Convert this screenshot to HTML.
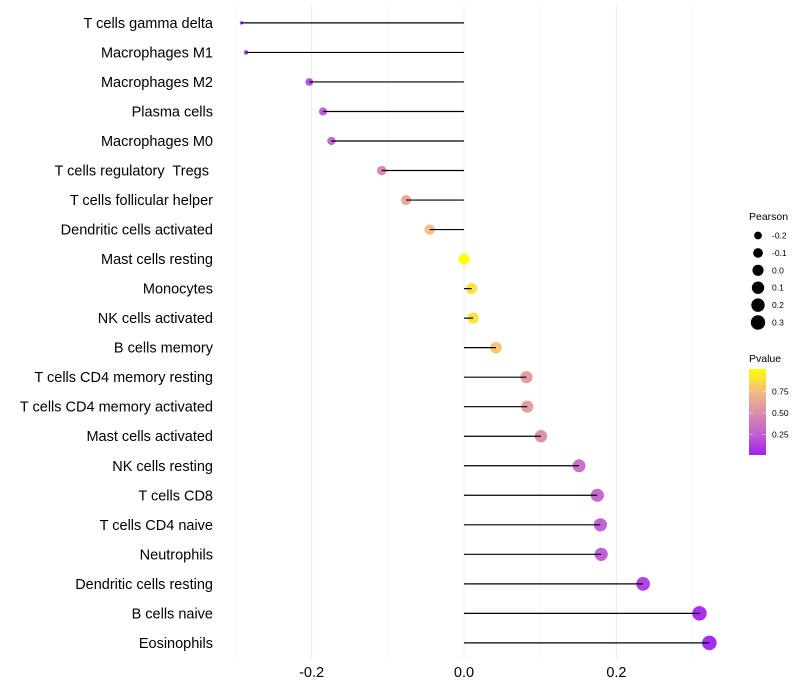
<!DOCTYPE html>
<html>
<head>
<meta charset="utf-8">
<title>Pearson lollipop chart</title>
<style>
html,body{margin:0;padding:0;background:#fff;}
svg{display:block;font-family:"Liberation Sans",sans-serif;}
text{white-space:pre;}
</style>
</head>
<body>
<svg id="chart" xmlns="http://www.w3.org/2000/svg" width="800" height="700" viewBox="0 0 800 700">
<defs>
<linearGradient id="pvalue-ramp" x1="0" y1="1" x2="0" y2="0">
<stop offset="0" stop-color="#a020f0"/>
<stop offset="0.24" stop-color="#c05fd0"/>
<stop offset="0.5" stop-color="#dd8fa8"/>
<stop offset="0.75" stop-color="#f3be7f"/>
<stop offset="1" stop-color="#ffff00"/>
</linearGradient>
</defs>
<g id="grid"></g>
<g id="points"></g>
<g id="segments"></g>
<g id="ylabels"></g>
<g id="xlabels"></g>
<g id="legend-size">
<text x="749" y="220" font-size="10.5" fill="#000">Pearson</text>
</g>
<g id="legend-color">
<text x="749" y="362" font-size="10.5" fill="#000">Pvalue</text>
<rect x="749" y="369" width="17" height="86" fill="url(#pvalue-ramp)"/>
</g>
</svg>
<script>
const categories = ["T cells gamma delta","Macrophages M1","Macrophages M2","Plasma cells","Macrophages M0","T cells regulatory  Tregs ","T cells follicular helper","Dendritic cells activated","Mast cells resting","Monocytes","NK cells activated","B cells memory","T cells CD4 memory resting","T cells CD4 memory activated","Mast cells activated","NK cells resting","T cells CD8","T cells CD4 naive","Neutrophils","Dendritic cells resting","B cells naive","Eosinophils"];
const pearson = [-0.292,-0.286,-0.203,-0.185,-0.174,-0.108,-0.076,-0.045,0,0.010,0.012,0.042,0.082,0.083,0.101,0.151,0.175,0.179,0.180,0.235,0.309,0.322];
const pvalue = [0.03,0.04,0.16,0.20,0.25,0.45,0.60,0.75,1.0,0.89,0.89,0.77,0.55,0.55,0.47,0.30,0.25,0.23,0.22,0.10,0.02,0.01];
const xMajorTicks = [-0.2,0,0.2];
const xMinorTicks = [-0.3,-0.1,0.1,0.3];
const xTickLabels = ["-0.2","0.0","0.2"];
const sizeLegendValues = [-0.2,-0.1,0,0.1,0.2,0.3];
const sizeLegendLabels = ["-0.2","-0.1","0.0","0.1","0.2","0.3"];
const colorLegendValues = [0.75,0.5,0.25];
const colorLegendLabels = ["0.75","0.50","0.25"];

const NS = "http://www.w3.org/2000/svg";
function xScale(v){ return 464 + v * 762; }
function yScale(i){ return 22.9 + i * (620 / (categories.length - 1)); }
const pearsonMin = Math.min.apply(null, pearson);
const pearsonMax = Math.max.apply(null, pearson);
function radius(v){
  const t = Math.max(0, (v - pearsonMin) / (pearsonMax - pearsonMin));
  return 1.7 + 5.6 * Math.sqrt(t);
}
function colorScale(p){
  const anchors = [[0,[160,32,240]],[0.24,[192,95,208]],[0.5,[221,143,168]],[0.75,[243,190,127]],[1,[255,255,0]]];
  for(let i = 1; i < anchors.length; i++){
    if(p <= anchors[i][0]){
      const a = anchors[i-1], b = anchors[i];
      const t = (p - a[0]) / (b[0] - a[0]);
      const c = a[1].map(function(q,k){ return Math.round(q + (b[1][k] - q) * t); });
      return "rgb(" + c.join(",") + ")";
    }
  }
  return "rgb(255,255,0)";
}
function pvalY(p){ return 455 - (p - 0.01) * 86; }
function make(tag, attrs, parent){
  const el = document.createElementNS(NS, tag);
  Object.keys(attrs).forEach(function(k){ el.setAttribute(k, attrs[k]); });
  parent.appendChild(el);
  return el;
}
const grid = document.getElementById("grid");
const points = document.getElementById("points");
const segments = document.getElementById("segments");
const ylabels = document.getElementById("ylabels");
const xlabels = document.getElementById("xlabels");
const legendSize = document.getElementById("legend-size");
const legendColor = document.getElementById("legend-color");

xMinorTicks.forEach(function(v){
  const el = make("line", {x1:xScale(v), x2:xScale(v), y1:6, y2:660, stroke:"#f2f2f2", "stroke-width":0.6}, grid);
  
  
});
xMajorTicks.forEach(function(v,i){
  const el = make("line", {x1:xScale(v), x2:xScale(v), y1:6, y2:660, stroke:"#ebebeb", "stroke-width":1.07}, grid);
  
  
  const t = make("text", {x:xScale(v), y:677, "text-anchor":"middle", "font-size":14.5, fill:"#000"}, xlabels);
  t.textContent = xTickLabels[i];
  
  
});
categories.forEach(function(name,i){
  const y = yScale(i);
  const c = make("circle", {cx:xScale(pearson[i]), cy:y, r:radius(pearson[i]), fill:colorScale(pvalue[i]), "fill-opacity":0.95}, points);
  
  
  const s = make("line", {x1:xScale(0), x2:xScale(pearson[i]), y1:y, y2:y, stroke:"#000", "stroke-width":1.2}, segments);
  
  
  const t = make("text", {x:213, y:y + 5, "text-anchor":"end", "font-size":14.5, fill:"#000"}, ylabels);
  t.textContent = name;
  
  
});
sizeLegendValues.forEach(function(v,i){
  const y = 235.5 + i * 17.4;
  const c = make("circle", {cx:758, cy:y, r:radius(v), fill:"#000"}, legendSize);
  
  
  const t = make("text", {x:772, y:y + 3, "font-size":8.5, fill:"#000"}, legendSize);
  t.textContent = sizeLegendLabels[i];
  
  
});
colorLegendValues.forEach(function(v,i){
  const y = pvalY(v);
  const a = make("line", {x1:749, x2:752.5, y1:y, y2:y, stroke:"#fff", "stroke-opacity":0.7, "stroke-width":0.6}, legendColor);
  
  
  const b = make("line", {x1:762.5, x2:766, y1:y, y2:y, stroke:"#fff", "stroke-opacity":0.7, "stroke-width":0.6}, legendColor);
  
  
  const t = make("text", {x:772, y:y + 3, "font-size":8.5, fill:"#000"}, legendColor);
  t.textContent = colorLegendLabels[i];
  
  
});
</script>
</body>
</html>
